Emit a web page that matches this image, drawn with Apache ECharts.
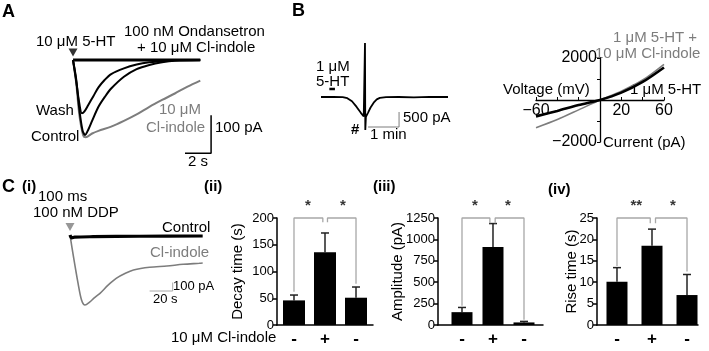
<!DOCTYPE html>
<html>
<head>
<meta charset="utf-8">
<script src="https://cdn.jsdelivr.net/npm/echarts@6/dist/echarts.min.js"></script>
<style>
  html, body { margin: 0; background: #fff; }
  #chart { width: 709px; height: 351px; }
</style>
</head>
<body>
<div id="chart"></div>
<script>
// ---- A: 5-HT evoked currents (time s, current pA)
const aOndansetron = [[0, 0], [10, 0]]
const aControl = [[0, 0], [0.25, -50], [0.5, -130], [0.75, -185], [0.95, -197], [1.2, -183], [1.5, -160], [2, -123], [2.5, -97], [3, -75], [4, -44], [5, -24], [6, -13], [7, -6], [8, -2], [10, 0]]
const aWash = [[0, 0], [0.25, -55], [0.5, -115], [0.7, -140], [0.9, -135], [1.2, -118], [1.6, -95], [2, -72], [2.5, -52], [3, -37], [4, -22], [5, -12], [6, -6], [7, -3], [8, 0], [10, 0]]
const aClIndole = [[0, 0], [0.25, -60], [0.5, -145], [0.8, -198], [1.0, -203], [1.5, -193], [2, -186], [3, -175], [4, -160], [5, -143], [6, -123], [7, -105], [8, -88], [9, -70], [10, -54]]
const aScaleBar = [[8.8, -245], [10.85, -245], [10.85, -145]] // 2 s, 100 pA

// ---- B: 1 uM 5-HT trace (time min, current pA) and I-V
const bTrace = [[0, 0], [0.4, 5], [0.7, -5], [0.85, -40], [1.0, -140], [1.15, -330], [1.28, -520], [1.38, -650], [1.41, -690], [1.42, 1800], [1.43, -1100], [1.45, -660], [1.52, -520], [1.6, -350], [1.7, -190], [1.8, -80], [1.9, -30], [2.1, -5], [2.5, 0], [3.0, -10], [3.5, 5], [4.1, 0]]
const bDrugBar = [[0.27, 270], [0.45, 270]]
const bScaleBar = [[1.52, -1000], [2.52, -1000], [2.52, -500]] // 1 min, 500 pA
const ivVoltage = [-60, -40, -20, 0, 20, 40, 60]
const ivControl = [-780, -520, -240, 0, 350, 860, 1550]
const ivClIndole = [-1320, -930, -470, 0, 420, 950, 1700]

// ---- C(i): DDP evoked currents (time s, current pA)
const cControl = [[0, 0], [1.5, -35], [4, -25], [20, -20], [60, -15], [115, -12]]
const cClIndole = [[0, 0], [3, -255], [7, -570], [10, -765], [13, -824], [17, -790], [21, -740], [26, -686], [33, -590], [40, -510], [48, -450], [55, -412], [69, -380], [84, -365], [98, -345], [112, -333], [115, -330]]
const cScaleBar = [[69, -659], [89, -659], [89, -559]] // 20 s, 100 pA

// ---- C(ii)-(iv): bar charts
const conditions = ['-', '+', '-']
const decayMean = [46, 136, 51]
const decaySem = [10, 36, 20]
const ampMean = [150, 910, 30]
const ampSem = [55, 275, 12]
const riseMean = [10.1, 18.5, 7.0]
const riseSem = [3.3, 3.9, 4.8]

const decayBrackets = [[[1, 62], [1, 200], [1.93, 200], [1.93, 192]], [[2.08, 192], [2.08, 200], [3, 200], [3, 77]]]
const ampBrackets = [[[1, 225], [1, 1250], [1.9, 1250], [1.9, 1190]], [[2.07, 1190], [2.07, 1250], [3, 1250], [3, 60]]]
const riseBrackets = [[[1, 13.8], [1, 25], [1.95, 25], [1.95, 23.8]], [[2.1, 23.8], [2.1, 25], [3, 25], [3, 12.5]]]
const decayStars = [[1.45, 222, '*'], [2.58, 222, '*']]
const ampStars = [[1.42, 1390, '*'], [2.48, 1390, '*']]
const riseStars = [[1.55, 27.8, '**'], [2.6, 27.8, '*']]

const FONT = '"Liberation Sans", Arial, Helvetica, sans-serif'
const GRAY = '#7d7d7d'
const LIGHT = '#a8a8a8'

const chart = echarts.init(document.getElementById('chart'))

function hiddenX(i, min, max) {
  return { gridIndex: i, type: 'value', min, max, show: false, splitLine: { show: false } }
}
function hiddenY(i, min, max) {
  return { gridIndex: i, type: 'value', min, max, show: false, splitLine: { show: false } }
}
function trace(i, data, color, width, smooth) {
  return {
    type: 'line', xAxisIndex: i, yAxisIndex: i, data, symbol: 'none', silent: true,
    smooth: smooth ? 0.3 : false, clip: false, animation: false,
    lineStyle: { color, width }
  }
}
function arrow(i, point, color) {
  return {
    type: 'scatter', xAxisIndex: i, yAxisIndex: i, data: [point], symbol: 'triangle',
    symbolRotate: 180, symbolSize: [9, 8], clip: false, silent: true, animation: false,
    itemStyle: { color }
  }
}
const minusFmt = v => (v < 0 ? '\u2212' + Math.abs(v) : String(v))

function barX(i, min, max) {
  return {
    gridIndex: i, type: 'value', min, max, splitLine: { show: false },
    axisLine: { lineStyle: { color: '#000', width: 1.5 } },
    axisTick: { show: false },
    axisLabel: {
      customValues: [1, 2, 3], formatter: v => conditions[Math.round(v) - 1],
      color: '#000', fontSize: 17, fontWeight: 'bold', fontFamily: FONT, margin: 6
    }
  }
}
function barY(i, max, interval, name, gap) {
  return {
    gridIndex: i, type: 'value', min: 0, max, interval, splitLine: { show: false },
    axisLine: { show: true, lineStyle: { color: '#000', width: 1.5 } },
    axisTick: { show: true, length: 4, lineStyle: { color: '#000', width: 1.5 } },
    axisLabel: { color: '#000', fontSize: 13, fontFamily: FONT, margin: 3, formatter: v => String(v) },
    name, nameLocation: 'middle', nameGap: gap, nameMoveOverlap: false,
    nameTextStyle: { color: '#000', fontSize: 15, fontFamily: FONT }
  }
}
function errRender(params, api) {
  const x = api.value(0)
  const mean = api.value(1)
  const top = mean + api.value(2)
  const base = api.coord([x, mean])
  const tip = api.coord([x, top])
  const style = { stroke: '#222', lineWidth: 1.5 }
  return {
    type: 'group', children: [
      { type: 'line', shape: { x1: base[0], y1: base[1], x2: tip[0], y2: tip[1] }, style },
      { type: 'line', shape: { x1: tip[0] - 4, y1: tip[1], x2: tip[0] + 4, y2: tip[1] }, style }
    ]
  }
}
function barSeries(i, mean, sem, brackets, stars, width) {
  const list = [
    {
      type: 'bar', xAxisIndex: i, yAxisIndex: i, barWidth: width, animation: false, silent: true,
      data: mean.map((v, k) => [k + 1, v]), itemStyle: { color: '#000' }
    },
    {
      type: 'custom', xAxisIndex: i, yAxisIndex: i, renderItem: errRender, animation: false, silent: true,
      data: mean.map((v, k) => [k + 1, v, sem[k]]), z: 1
    },
    {
      type: 'scatter', xAxisIndex: i, yAxisIndex: i, data: stars, symbolSize: 0, clip: false, silent: true,
      animation: false,
      label: {
        show: true, formatter: p => p.value[2], position: 'inside', color: '#000',
        fontSize: 15, fontWeight: 'bold', fontFamily: FONT
      }
    }
  ]
  brackets.forEach(b => list.push(trace(i, b, LIGHT, 1.3, false)))
  return list
}

function txt(x, y, s, opt) {
  return {
    type: 'text', x, y, silent: true,
    style: Object.assign({
      text: s, fill: '#000', font: '15px ' + FONT, textAlign: 'left', textVerticalAlign: 'middle'
    }, opt || {})
  }
}
const bold17 = { font: 'bold 18px ' + FONT }
const bold15 = { font: 'bold 15px ' + FONT }

const option = {
  backgroundColor: '#fff',
  animation: false,
  grid: [
    { left: 73, top: 60, width: 140, height: 99 },   // A
    { left: 321, top: 37, width: 127, height: 120 }, // B trace
    { left: 536, top: 58, width: 128, height: 84 },  // B I-V
    { left: 70, top: 235, width: 150, height: 85 },  // C(i)
    { left: 277, top: 218, width: 96, height: 107 }, // C(ii)
    { left: 438, top: 218, width: 105, height: 107 },// C(iii)
    { left: 597, top: 218, width: 101, height: 107 } // C(iv)
  ],
  xAxis: [
    hiddenX(0, 0, 11),
    hiddenX(1, 0, 4.1),
    {
      // axis crosses at current = 0 (middle of the grid)
      gridIndex: 2, type: 'value', min: -60, max: 60, interval: 20, splitLine: { show: false },
      position: 'bottom', offset: -42,
      axisLine: { onZero: false, lineStyle: { color: '#000', width: 1.3 } },
      axisTick: { inside: true, length: 3, lineStyle: { color: '#000' } },
      axisLabel: {
        customValues: [-60, 20, 60], formatter: minusFmt,
        color: '#000', fontSize: 16, fontFamily: FONT, margin: 3
      }
    },
    hiddenX(3, 0, 130),
    barX(4, 0.452, 3.548),
    barX(5, 0.226, 3.613),
    barX(6, 0.429, 3.314)
  ],
  yAxis: [
    hiddenY(0, -260, 0),
    hiddenY(1, -2000, 2000),
    {
      // axis crosses at voltage = 0 (middle of the grid)
      gridIndex: 2, type: 'value', min: -2000, max: 2000, interval: 1000, splitLine: { show: false },
      position: 'left', offset: -64,
      axisLine: { onZero: false, lineStyle: { color: '#000', width: 1.3 } },
      axisTick: { length: 3, lineStyle: { color: '#000' } },
      axisLabel: {
        customValues: [-2000, 2000], formatter: minusFmt,
        color: '#000', fontSize: 16, fontFamily: FONT, margin: 3
      }
    },
    hiddenY(3, -1000, 0),
    barY(4, 200, 50, 'Decay time (s)', 32),
    barY(5, 1250, 250, 'Amplitude (pA)', 33),
    barY(6, 25, 5, 'Rise time (s)', 18)
  ],
  series: [
    // A
    trace(0, aOndansetron, '#000', 3.2, false),
    trace(0, aClIndole, GRAY, 2, true),
    trace(0, aControl, '#000', 2, true),
    trace(0, aWash, '#000', 2, true),
    trace(0, aScaleBar, '#000', 1.5, false),
    arrow(0, [0, 20], '#000'),
    // B trace
    trace(1, bTrace, '#000', 1.8, false),
    trace(1, bDrugBar, '#000', 2.5, false),
    trace(1, bScaleBar, GRAY, 1, false),
    // B I-V
    trace(2, ivVoltage.map((v, k) => [v, ivClIndole[k]]), GRAY, 1.6, true),
    trace(2, ivVoltage.map((v, k) => [v, ivControl[k]]), '#000', 2.6, true),
    // C(i)
    trace(3, cClIndole, GRAY, 1.6, true),
    trace(3, cControl, '#000', 3.2, true),
    trace(3, cScaleBar, LIGHT, 1, false),
    arrow(3, [0, 94], GRAY),
    // C(ii)-(iv)
    ...barSeries(4, decayMean, decaySem, decayBrackets, decayStars, 22),
    ...barSeries(5, ampMean, ampSem, ampBrackets, ampStars, 21),
    ...barSeries(6, riseMean, riseSem, riseBrackets, riseStars, 21)
  ],
  graphic: [
    // A
    txt(2, 12, 'A', bold17),
    txt(36, 42, '10 \u03bcM 5-HT'),
    txt(124, 32, '100 nM Ondansetron'),
    txt(137, 48, '+ 10 \u03bcM Cl-indole'),
    txt(36, 111, 'Wash'),
    txt(31, 137, 'Control'),
    txt(159, 110, '10 \u03bcM', { fill: GRAY }),
    txt(146, 128, 'Cl-indole', { fill: GRAY }),
    txt(215, 128, '100 pA'),
    txt(188, 162, '2 s'),
    // B
    txt(292, 11, 'B', bold17),
    txt(316, 67, '1 \u03bcM'),
    txt(316, 82, '5-HT'),
    txt(351, 130, '#', bold15),
    txt(403, 118, '500 pA'),
    txt(370, 135, '1 min'),
    txt(613, 38, '1 \u03bcM 5-HT +', { fill: GRAY }),
    txt(595, 54, '10 \u03bcM Cl-indole', { fill: GRAY }),
    txt(503, 90, 'Voltage (mV)'),
    txt(630, 90, '1 \u03bcM 5-HT'),
    txt(603, 143, 'Current (pA)'),
    // C
    txt(2, 187, 'C', bold17),
    txt(22, 187, '(i)', bold15),
    txt(38, 197, '100 ms'),
    txt(33, 213, '100 nM DDP'),
    txt(162, 228, 'Control'),
    txt(150, 253, 'Cl-indole', { fill: GRAY }),
    txt(173, 286, '100 pA', { font: '13px ' + FONT }),
    txt(153, 299, '20 s', { font: '13px ' + FONT }),
    txt(204, 187, '(ii)', bold15),
    txt(373, 187, '(iii)', bold15),
    txt(548, 190, '(iv)', bold15),
    txt(171, 338, '10 \u03bcM Cl-indole')
  ]
}

chart.setOption(option)
</script>
</body>
</html>
